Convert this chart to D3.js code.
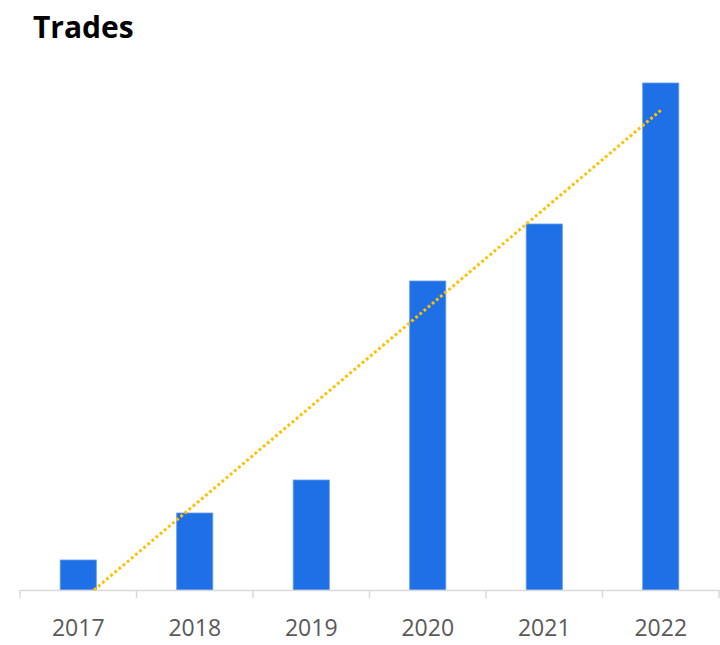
<!DOCTYPE html>
<html>
<head>
<meta charset="utf-8">
<script src="https://cdn.jsdelivr.net/npm/d3@7"></script>
<style>
  body { margin: 0; background: #fff; }
</style>
</head>
<body>
<div id="chart"></div>
<script>
const years = ["2017", "2018", "2019", "2020", "2021", "2022"];
const trades = [30, 77, 110, 309, 366, 507];

const width = 720, height = 645;
const margin = {top: 83, right: 1, bottom: 55, left: 20};
const baseline = height - margin.bottom;

const svg = d3.select("#chart").append("svg")
  .attr("width", width)
  .attr("height", height);

svg.append("text")
  .attr("x", 33)
  .attr("y", 38)
  .style("font-family", "'Open Sans', sans-serif")
  .style("font-weight", "bold")
  .style("font-size", "30px")
  .attr("fill", "#000")
  .text("Trades");

const x = d3.scaleBand()
  .domain(years)
  .range([margin.left, width - margin.right])
  .padding(0);

const y = d3.scaleLinear()
  .domain([0, d3.max(trades)])
  .range([baseline, margin.top]);

const barW = x.bandwidth() * 0.31;

// bars
svg.selectAll(".bar")
  .data(years)
  .enter().append("rect")
  .attr("class", "bar")
  .attr("x", d => x(d) + (x.bandwidth() - barW) / 2)
  .attr("y", (d, i) => y(trades[i]))
  .attr("width", barW)
  .attr("height", (d, i) => baseline - y(trades[i]))
  .attr("fill", "#1f70e6")
  .attr("stroke", "#5f9bee")
  .attr("stroke-width", 0.8);

// axis
const xAxis = d3.axisBottom(x).tickSize(0).tickPadding(0);
const gx = svg.append("g")
  .attr("transform", "translate(0," + baseline + ")")
  .call(xAxis);
gx.select(".domain").attr("stroke", "#d9d9d9").attr("stroke-width", 1.5);
gx.selectAll(".tick text")
  .attr("y", 46)
  .attr("dy", 0)
  .style("font-family", "'Open Sans', sans-serif")
  .style("font-size", "23px")
  .attr("fill", "#595959");

// category boundary ticks
const bounds = years.map(d => x(d)).concat([x(years[years.length - 1]) + x.bandwidth()]);
gx.selectAll(".bound")
  .data(bounds)
  .enter().append("line")
  .attr("class", "bound")
  .attr("x1", d => d).attr("x2", d => d)
  .attr("y1", 0).attr("y2", 8)
  .attr("stroke", "#d9d9d9")
  .attr("stroke-width", 1.5);

// linear trendline (least squares), clipped at the axis
const n = trades.length;
const xs = d3.range(1, n + 1);
const mx = d3.mean(xs), my = d3.mean(trades);
const slope = d3.sum(xs, (v, i) => (v - mx) * (trades[i] - my)) / d3.sum(xs, v => (v - mx) * (v - mx));
const icpt = my - slope * mx;
const pos = v => x(years[0]) + x.bandwidth() / 2 + (v - 1) * x.step();
let x0 = 1;
if (icpt + slope * x0 < 0) x0 = -icpt / slope;
const x1 = n;

svg.append("line")
  .attr("x1", pos(x0))
  .attr("y1", y(icpt + slope * x0))
  .attr("x2", pos(x1))
  .attr("y2", y(icpt + slope * x1))
  .attr("stroke", "#ffc000")
  .attr("stroke-width", 3)
  .attr("stroke-dasharray", "2.8,2.6");
</script>
</body>
</html>
